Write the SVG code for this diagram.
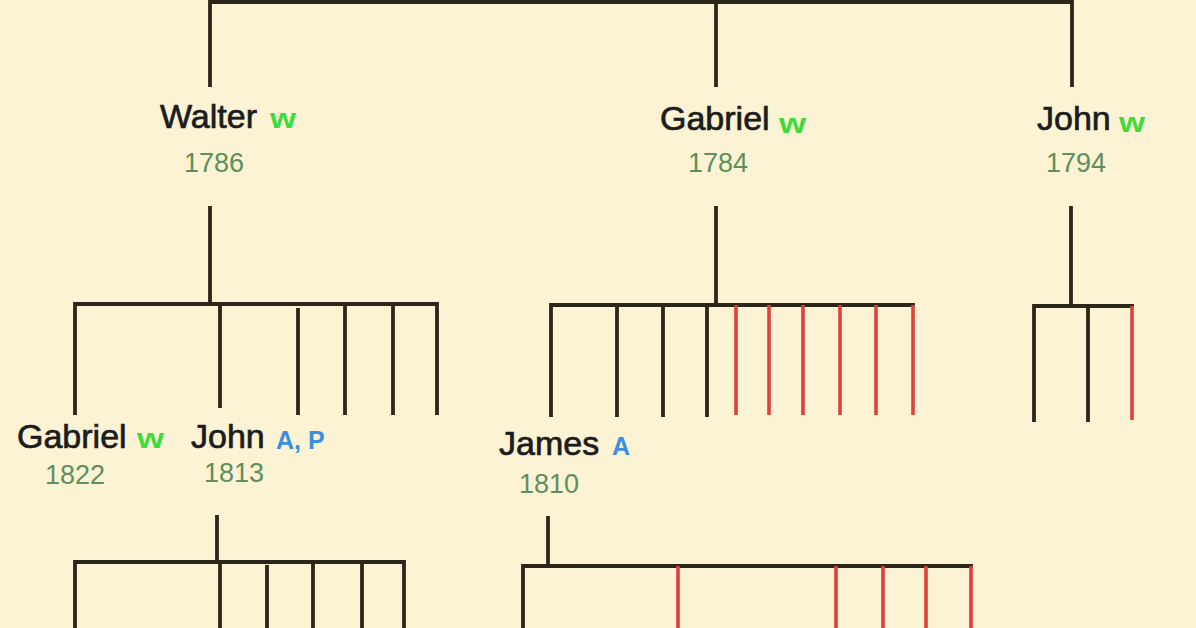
<svg xmlns="http://www.w3.org/2000/svg" width="1196" height="628" viewBox="0 0 1196 628">
<style>
.bg{fill:#fcf2d4}
.k{stroke:#2b2619;stroke-width:3.8;fill:none;stroke-linecap:square}
.r{stroke:#e0403c;stroke-width:3.6;fill:none}
.nm{font-family:"Liberation Sans",Arial,sans-serif;font-size:34px;fill:#1c1c1c;stroke:#1c1c1c;stroke-width:0.7}
.w{font-family:"Liberation Sans",Arial,sans-serif;font-size:28px;font-weight:bold;fill:#3ddc3a}
.a{font-family:"Liberation Sans",Arial,sans-serif;font-size:25px;font-weight:bold;fill:#3b8fe0}
.yr{font-family:"Liberation Sans",Arial,sans-serif;font-size:27px;fill:#5e8f5e}
</style>
<rect class="bg" x="0" y="0" width="1196" height="628"/>
<g id="connectors">
  <path class="k" d="M210,85 V2 H1072 V85 M716,2 V85"/>
  <path class="k" d="M210,208 V304 M75,413 V304 H437 V413 M220,304 V406 M298,310 V413 M345,304 V413 M393,304 V413"/>
  <path class="k" d="M716,208 V305 M551,415 V305 H913 M617,305 V415 M663,305 V415 M707,305 V415"/>
  <path class="r" d="M736,305 V415 M769,305 V415 M803,305 V415 M840,305 V415 M876,305 V415 M913,305 V415"/>
  <path class="k" d="M1071,208 V306 M1034,420 V306 H1132 M1088,306 V420"/>
  <path class="r" d="M1132,306 V420"/>
  <path class="k" d="M217,517 V562 M75,628 V562 H404 V628 M220,562 V628 M267,567 V628 M313,562 V628 M362,562 V628"/>
  <path class="k" d="M548,518 V566 M523,628 V566 H971"/>
  <path class="r" d="M678,566 V628 M836,566 V628 M883,566 V628 M926,566 V628 M971,566 V628"/>
</g>
<g id="walter">
  <text class="nm" x="160" y="128">Walter</text>
  <text class="w" x="270" y="128" textLength="26" lengthAdjust="spacingAndGlyphs">w</text>
  <text class="yr" x="184" y="172">1786</text>
</g>
<g id="gabriel-1784">
  <text class="nm" x="660" y="130">Gabriel</text>
  <text class="w" x="779" y="133" textLength="27" lengthAdjust="spacingAndGlyphs">w</text>
  <text class="yr" x="688" y="172">1784</text>
</g>
<g id="john-1794">
  <text class="nm" x="1037" y="130">John</text>
  <text class="w" x="1119" y="132" textLength="26" lengthAdjust="spacingAndGlyphs">w</text>
  <text class="yr" x="1046" y="172">1794</text>
</g>
<g id="gabriel-1822">
  <text class="nm" x="17" y="448">Gabriel</text>
  <text class="w" x="137" y="448" textLength="27" lengthAdjust="spacingAndGlyphs">w</text>
  <text class="yr" x="45" y="484">1822</text>
</g>
<g id="john-1813">
  <text class="nm" x="191" y="448">John</text>
  <text class="a" x="276" y="449">A, P</text>
  <text class="yr" x="204" y="482">1813</text>
</g>
<g id="james-1810">
  <text class="nm" x="499" y="455">James</text>
  <text class="a" x="612" y="455">A</text>
  <text class="yr" x="519" y="493">1810</text>
</g>
</svg>
